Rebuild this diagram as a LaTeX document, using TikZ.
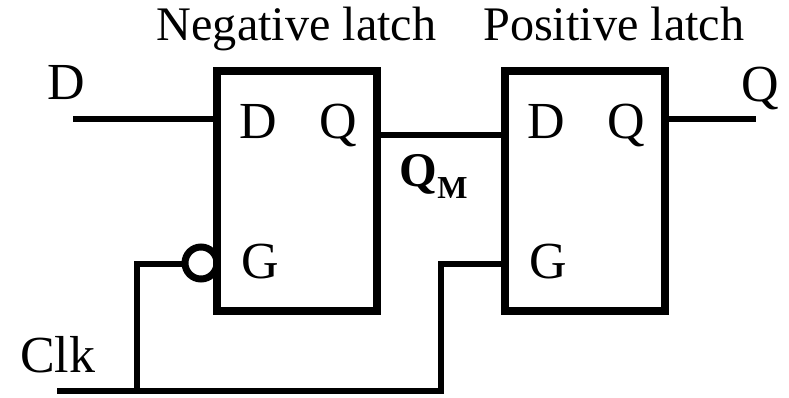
\documentclass[tikz,border=0pt]{standalone}
\usepackage{fontspec}
\setmainfont{Liberation Serif}
\begin{document}
\begin{tikzpicture}[x=1pt,y=-1pt,
 wire/.style={line width=6pt,line cap=butt,line join=miter},
 latchbox/.style={draw,line width=8pt,inner sep=0,outer sep=0,minimum width=160pt,minimum height=239.5pt},
 lbl/.style={inner sep=0,anchor=base west,font=\fontsize{52}{52}\selectfont},
 titlelbl/.style={inner sep=0,anchor=base west,font=\fontsize{48.2}{48.2}\selectfont}]
\useasboundingbox (0,0) rectangle (789,398);
\fill[white] (0,0) rectangle (789,398);
\coordinate (dw) at (73,119.5);
\coordinate (qe) at (756,119.5);
\coordinate (c0) at (57,391);
\coordinate (c1) at (137,391);
\coordinate (c2) at (137,263.5);
\coordinate (c3) at (441,391);
\coordinate (c4) at (441,263.5);
\node[circle,draw,line width=7pt,fill=white,minimum size=32pt,inner sep=0,outer sep=0] (bub) at (201,263) {};
\node[latchbox] (L) at (297,191.2) {};
\node[latchbox] (P) at (585,191.2) {};
\node[titlelbl] (t1) at (156.5,41) {Negative latch};
\node[titlelbl] (t2) at (483,41) {Positive latch};
\node[lbl] (dl) at (47.2,100) {D};
\node[lbl] (ql) at (741.3,102) {Q};
\node[lbl] (d1) at (239.2,139) {D};
\node[lbl] (q1) at (319.3,139) {Q};
\node[lbl] (g1) at (241.5,278.5) {G};
\node[lbl] (d2) at (527.2,139) {D};
\node[lbl] (q2) at (607.3,139) {Q};
\node[lbl] (g2) at (529.5,278.5) {G};
\node[lbl] (clk) at (19.8,372) {Clk};
\node[inner sep=0,anchor=base west] (qm) at (399.5,186) {\fontsize{48.4}{48.4}\selectfont\bfseries Q\raisebox{-12pt}{\fontsize{32}{32}\selectfont M}};
\draw[wire] (dw) -- (L.west |- dw);
\draw[wire] (L.east |- 0,135) -- (P.west |- 0,135);
\draw[wire] (P.east |- qe) -- (qe);
\draw[wire] (c0) -- (c3) -- (c4) -- (P.west |- c4);
\draw[wire] (c1) -- (c2) -- (bub.west |- c2);
\end{tikzpicture}
\end{document}
